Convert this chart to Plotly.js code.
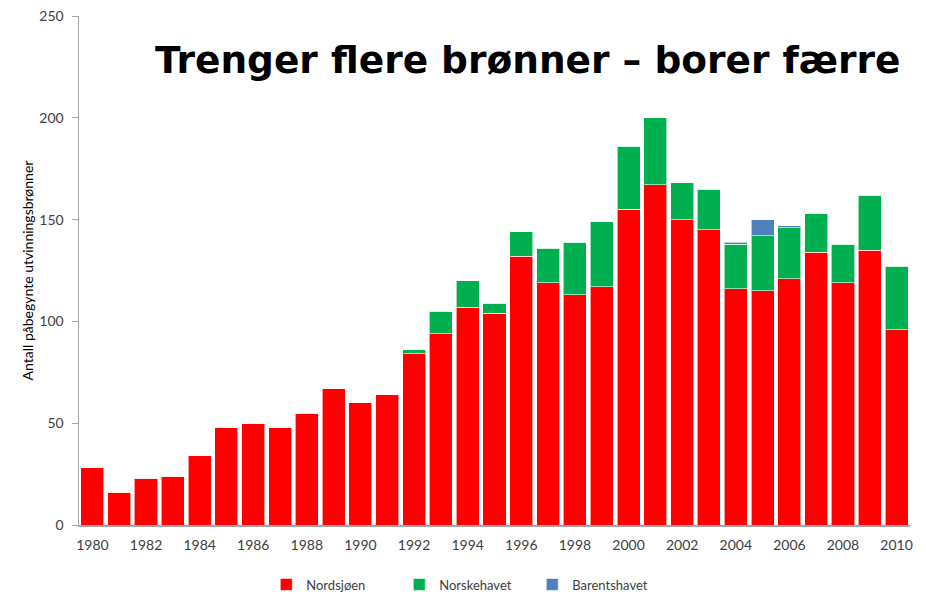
<!DOCTYPE html>
<html>
<head>
<meta charset="utf-8">
<script src="https://cdn.plot.ly/plotly-3.0.1.min.js"></script>
<style>html,body{margin:0;padding:0;background:#fff;}#chart{width:926px;height:594px;}</style>
</head>
<body>
<div id="chart"></div>
<script>
const years = [1980,1981,1982,1983,1984,1985,1986,1987,1988,1989,1990,1991,1992,1993,1994,1995,1996,1997,1998,1999,2000,2001,2002,2003,2004,2005,2006,2007,2008,2009,2010];
const nordsjoen = [28,16,23,24,34,48,50,48,55,67,60,64,84,94,107,104,132,119,113,117,155,167,150,145,116,115,121,134,119,135,96];
const norskehavet = [0,0,0,0,0,0,0,0,0,0,0,0,2,11,13,5,12,17,26,32,31,33,18,20,22,27,25,19,19,27,31];
const barentshavet = [0,0,0,0,0,0,0,0,0,0,0,0,0,0,0,0,0,0,0,0,0,0,0,0,1,8,1,0,0,0,0];
const seriesNames = ['Nordsjøen','Norskehavet','Barentshavet'];
const titleText = 'Trenger flere brønner – borer færre';
const yTitle = 'Antall påbegynte utvinningsbrønner';

const colors = ['#FF0000','#00B050','#4F81BD'];
const vals = [nordsjoen, norskehavet, barentshavet];
const traces = vals.map((v,i)=>({
  type:'bar', x: years, y: v, name: seriesNames[i],
  marker:{color:colors[i], line:{color:'rgba(255,255,255,0.6)', width:1}},
  hoverinfo:'x+y+name'
}));

const fam = 'Lato, "Open Sans", sans-serif';
const tickFont = {family:fam, size:14, color:'#404040'};
const layout = {
  width:926, height:594,
  margin:{l:79, r:16, t:16, b:69},
  barmode:'stack', bargap:0.14,
  paper_bgcolor:'#fff', plot_bgcolor:'#fff',
  showlegend:true,
  legend:{orientation:'h', xref:'container', yref:'container', x:0.503, xanchor:'center', y:0.016, yanchor:'middle',
    font:{family:fam, size:13, color:'#404040'},
    entrywidth:88, traceorder:'normal'},
  xaxis:{type:'linear', range:[1979.5,2010.5], tick0:1980, dtick:2, showgrid:false, zeroline:false,
    showline:true, linecolor:'#A6A6A6', linewidth:1.5, ticks:'', tickfont:tickFont, ticklabelstandoff:7},
  yaxis:{range:[0,250], dtick:50, showgrid:false, zeroline:false, showline:true, linecolor:'#A6A6A6', linewidth:1.5,
    ticks:'outside', ticklen:6, tickcolor:'#A6A6A6', tickfont:tickFont, ticklabelstandoff:5,
    title:{text:yTitle, font:{family:fam, size:14, color:'#000'}, standoff:2}},
  annotations:[{text:'<b>'+titleText+'</b>', xref:'paper', yref:'paper', x:0.992, y:0.913, xanchor:'right', yanchor:'middle',
    showarrow:false, font:{family:'"DejaVu Sans", Verdana, sans-serif', size:37.5, color:'#000'}}]
};
Plotly.newPlot('chart', traces, layout, {displayModeBar:false, staticPlot:true});
</script>
</body>
</html>
